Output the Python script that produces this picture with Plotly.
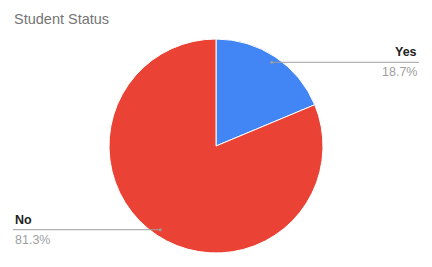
import math
import plotly.graph_objects as go

labels = ["Yes", "No"]
values = [18.7, 81.3]
colors = ["#4285F4", "#EA4335"]
title = "Student Status"

W, H = 432, 267
cx, cy, r = 216, 146, 107  # pie centre/radius in pixels

fig = go.Figure(go.Pie(
    labels=labels, values=values, sort=False, direction="clockwise", rotation=0,
    marker=dict(colors=colors, line=dict(color="white", width=1)),
    textinfo="none", hoverinfo="label+percent", showlegend=False,
    domain=dict(x=[(cx - r) / W, (cx + r) / W], y=[(H - cy - r) / H, (H - cy + r) / H]),
))

shapes, annotations = [], []
total = sum(values)
cum = 0
X = lambda x: x / W
Y = lambda y: 1 - y / H
for lab, v in zip(labels, values):
    mid = (cum + v / 2) / total * 2 * math.pi
    cum += v
    px = cx + 0.94 * r * math.sin(mid)
    py = cy - 0.94 * r * math.cos(mid)
    right = math.sin(mid) > 0
    ex = 419 if right else 13
    shapes.append(dict(type="line", xref="paper", yref="paper", x0=X(px), y0=Y(py), x1=X(ex), y1=Y(py),
                       line=dict(color="#9e9e9e", width=1)))
    shapes.append(dict(type="circle", xref="paper", yref="paper", x0=X(px - 1.5), x1=X(px + 1.5),
                       y0=Y(py - 1.5), y1=Y(py + 1.5), fillcolor="#9e9e9e", line=dict(width=0)))
    anchor = "right" if right else "left"
    annotations.append(dict(xref="paper", yref="paper", x=X(ex), y=Y(py - 1), text="<b>%s</b>" % lab,
                            showarrow=False, xanchor=anchor, yanchor="bottom",
                            font=dict(family="Liberation Sans, Arial", size=12.5, color="#222222")))
    annotations.append(dict(xref="paper", yref="paper", x=X(ex), y=Y(py + 1), text="%.1f%%" % v,
                            showarrow=False, xanchor=anchor, yanchor="top",
                            font=dict(family="Liberation Sans, Arial", size=12.5, color="#9e9e9e")))

annotations.append(dict(xref="paper", yref="paper", x=12 / W, y=1 - 9 / H, text=title, showarrow=False,
                        xanchor="left", yanchor="top",
                        font=dict(family="Liberation Sans, Arial", size=14.5, color="#757575")))

fig.update_layout(width=W, height=H, margin=dict(l=0, r=0, t=0, b=0),
                  paper_bgcolor="white", plot_bgcolor="white",
                  shapes=shapes, annotations=annotations)
fig.write_html("out.html", config={"displayModeBar": False},
               post_script="document.body.style.margin='0';document.body.style.overflow='hidden';")
